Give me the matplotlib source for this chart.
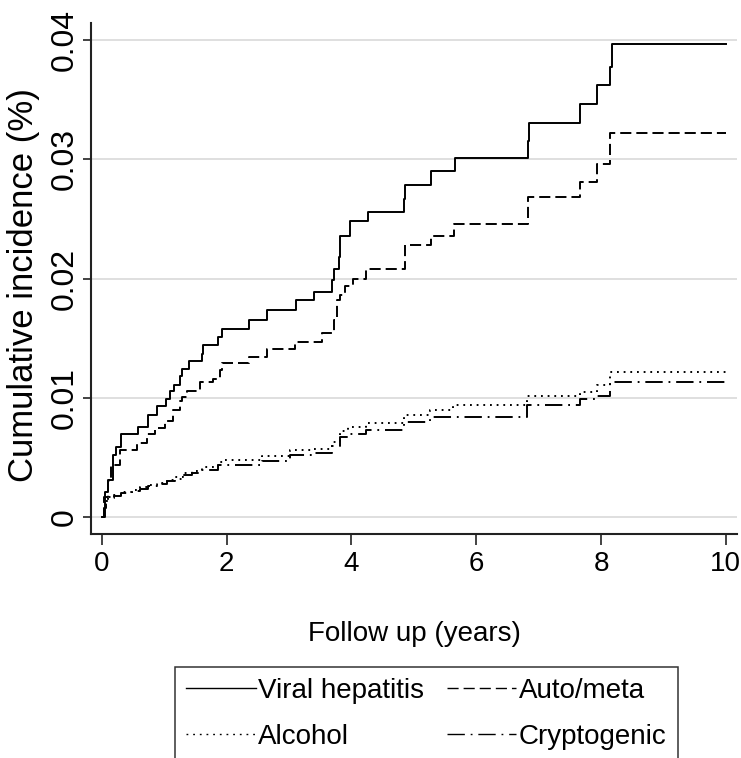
import numpy as np
import matplotlib
matplotlib.use("Agg")
import matplotlib.pyplot as plt

#################
#DATA
#################
viralT = [0, 0.05, 0.10, 0.17, 0.23, 0.30, 0.57, 0.73, 0.89, 1.02, 1.09, 1.15, 1.25, 1.28, 1.40,
          1.60, 1.62, 1.86, 1.92, 2.35, 2.64, 3.11, 3.40, 3.68, 3.72, 3.80, 3.82, 3.97, 4.26, 4.84,
          4.86, 5.27, 5.66, 6.83, 6.85, 7.67, 7.93, 8.15, 8.17, 10.0]
viralV = [0, 0.0021, 0.0031, 0.0052, 0.0059, 0.0070, 0.0076, 0.0086, 0.0093, 0.0099, 0.0106, 0.0111,
          0.0118, 0.0124, 0.0131, 0.0137, 0.0144, 0.0151, 0.0158, 0.0165, 0.0174, 0.0182, 0.0189,
          0.0199, 0.0208, 0.0218, 0.0236, 0.0248, 0.0256, 0.0267, 0.0278, 0.0290, 0.0301, 0.0315,
          0.0330, 0.0346, 0.0362, 0.0377, 0.0396, 0.0396]

autoT = [0, 0.03, 0.10, 0.15, 0.29, 0.56, 0.72, 0.85, 1.01, 1.14, 1.25, 1.28, 1.36, 1.57, 1.78, 1.89,
         1.92, 2.35, 2.64, 3.09, 3.52, 3.72, 3.76, 3.81, 3.89, 4.03, 4.24, 4.86, 5.27, 5.65, 6.83,
         7.67, 7.93, 8.15, 10.0]
autoV = [0, 0.0017, 0.0030, 0.0044, 0.0056, 0.0062, 0.0070, 0.0075, 0.0081, 0.0090, 0.0097, 0.0101,
         0.0106, 0.0113, 0.0116, 0.0123, 0.0129, 0.0134, 0.0141, 0.0147, 0.0154, 0.0165, 0.0182,
         0.0186, 0.0194, 0.0200, 0.0208, 0.0228, 0.0236, 0.0246, 0.0268, 0.0281, 0.0296, 0.0322, 0.0322]

alcoholT = [0, 0.03, 0.06, 0.10, 0.20, 0.31, 0.48, 0.61, 0.74, 0.88, 1.04, 1.17, 1.30, 1.44, 1.60,
            1.86, 1.95, 2.56, 3.01, 3.39, 3.68, 3.81, 3.95, 4.24, 4.84, 5.26, 5.63, 6.81, 7.66,
            7.93, 8.14, 10.0]
alcoholV = [0, 0.0008, 0.0014, 0.0017, 0.0019, 0.0021, 0.0023, 0.0025, 0.0027, 0.0029, 0.0031,
            0.0034, 0.0037, 0.0039, 0.0042, 0.0046, 0.0048, 0.0051, 0.0056, 0.0057, 0.0063, 0.0072,
            0.0076, 0.0079, 0.0086, 0.0090, 0.0094, 0.0102, 0.0105, 0.0111, 0.0122, 0.0122]

cryptoT = [0, 0.03, 0.06, 0.10, 0.20, 0.31, 0.48, 0.61, 0.74, 0.88, 1.04, 1.17, 1.30, 1.44, 1.60,
           1.86, 2.56, 3.01, 3.39, 3.68, 3.81, 3.95, 4.24, 4.84, 5.26, 6.81, 7.66, 7.93, 8.14, 10.0]
cryptoV = [0, 0.0008, 0.0013, 0.0016, 0.0018, 0.0020, 0.0022, 0.0024, 0.0026, 0.0028, 0.0030,
           0.0032, 0.0035, 0.0037, 0.0040, 0.0044, 0.0047, 0.0052, 0.0054, 0.0060, 0.0067, 0.0070,
           0.0073, 0.0080, 0.0084, 0.0094, 0.0099, 0.0102, 0.0113, 0.0113]

xTicks = [0, 2, 4, 6, 8, 10]
yTicks = [0, 0.01, 0.02, 0.03, 0.04]
yTickLabels = ["0", "0.01", "0.02", "0.03", "0.04"]

#################
#STYLE
#################
plt.rcParams['lines.scale_dashes'] = False
#horizontal text in the reference looks squeezed, so it gets a smaller size than the rotated text
flatFont = ['Liberation Sans', 'DejaVu Sans']
flatSize = 20
rotFont = ['Liberation Sans', 'DejaVu Sans']

fig = plt.figure(figsize=(7.41, 7.58), dpi=100)
ax = fig.add_axes([91/741, 1 - 534/758, (737 - 91)/741, (534 - 23)/758])

#gridlines behind the curves
ax.set_axisbelow(True)
ax.yaxis.grid(True, color='#d6d6d6', linewidth=1.1)
ax.xaxis.grid(False)

lineWidth = 1.4
viralLine, = ax.plot(viralT, viralV, drawstyle='steps-post', color='black', linewidth=lineWidth,
                     linestyle='-')
autoLine, = ax.plot(autoT, autoV, drawstyle='steps-post', color='black', linewidth=lineWidth,
                    linestyle=(0, (8, 3.6)))
alcoholLine, = ax.plot(alcoholT, alcoholV, drawstyle='steps-post', color='black', linewidth=lineWidth,
                       linestyle=(0, (1.3, 3.5)))
cryptoLine, = ax.plot(cryptoT, cryptoV, drawstyle='steps-post', color='black', linewidth=lineWidth,
                      linestyle=(0, (12.5, 4.2, 1.3, 4.2)))

ax.set_xlim(-0.176, 10.18)
ax.set_ylim(-0.0014, 0.0414)

ax.set_xticks(xTicks)
ax.set_xticklabels([str(t) for t in xTicks], family=flatFont, fontsize=flatSize)
ax.set_yticks(yTicks)
ax.set_yticklabels(yTickLabels, family=rotFont, fontsize=23, rotation=90, va='center')

ax.tick_params(axis='x', length=7.7, width=1.2, pad=4.5, color='#222222')
ax.tick_params(axis='y', length=5.8, width=1.2, pad=2, color='#222222')

for side in ['top', 'right']:
    ax.spines[side].set_visible(False)
for side in ['left', 'bottom']:
    ax.spines[side].set_linewidth(1.5)
    ax.spines[side].set_color('#222222')

ax.set_xlabel("Follow up (years)", family=flatFont, fontsize=flatSize)
ax.xaxis.set_label_coords(0.5, -(647 - 534)/511)
ax.xaxis.label.set_va('bottom')
ax.set_ylabel("Cumulative incidence (%)", family=rotFont, fontsize=25)
ax.yaxis.set_label_coords((40 - 91)/646, (534 - 285)/511)

#################
#LEGEND
#################
leg = fig.legend([viralLine, alcoholLine, autoLine, cryptoLine],
                 ["Viral hepatitis", "Alcohol", "Auto/meta", "Cryptogenic"],
                 ncol=2, loc='upper left', bbox_to_anchor=(175/741, 1 - 667/758),
                 prop={'family': flatFont, 'size': flatSize},
                 handlelength=2.5, handletextpad=0.1, columnspacing=0.8,
                 borderpad=0.4, labelspacing=0.7, borderaxespad=0,
                 fancybox=False, frameon=True)
leg.get_frame().set_edgecolor('black')
leg.get_frame().set_linewidth(1.1)
for legLine in leg.get_lines():
    legLine.set_linewidth(1.0)

fig.savefig("out.png", dpi=100, facecolor='white')
